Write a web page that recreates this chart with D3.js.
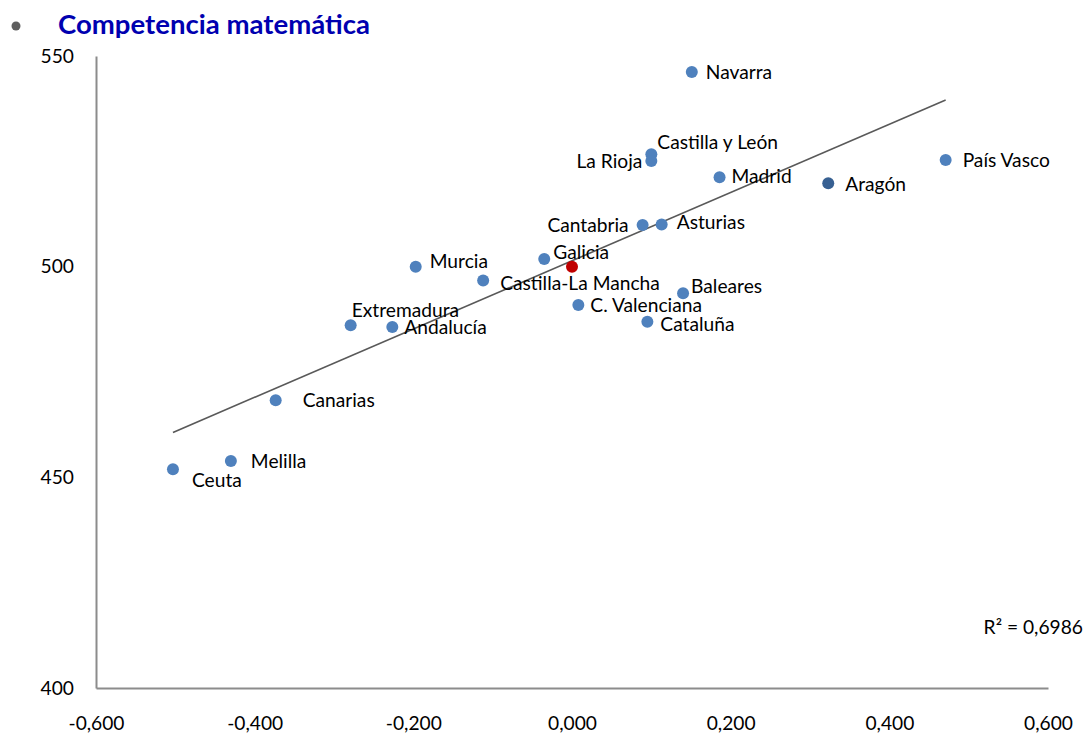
<!DOCTYPE html>
<html><head><meta charset="utf-8">
<script src="https://cdn.jsdelivr.net/npm/d3@7"></script>
<style>body{margin:0;background:#fff}svg{display:block}</style>
</head><body>
<svg id="c" width="1091" height="736"></svg>
<script>
const regions = ["Navarra","Castilla y León","La Rioja","Madrid","Aragón","País Vasco","Cantabria","Asturias","Galicia","Murcia","Castilla-La Mancha","Baleares","C. Valenciana","Cataluña","Extremadura","Andalucía","Canarias","Melilla","Ceuta","España"];
const xValues = [0.151,0.100,0.100,0.186,0.323,0.471,0.089,0.113,-0.035,-0.197,-0.112,0.140,0.008,0.095,-0.279,-0.2265,-0.3735,-0.430,-0.503,0.000];
const yValues = [546.2,526.7,525.1,521.2,519.8,525.3,509.9,510.0,501.8,500.0,496.7,493.7,490.9,486.9,486.1,485.7,468.3,453.9,451.9,500.0];
const pointKind = ["n","n","n","n","a","n","n","n","n","n","n","n","n","n","n","n","n","n","n","s"];
// label offsets (px) relative to point: [dx, dy, anchor]
const labelOffsets = [[14,0,"start"],[6,-12,"start"],[-9,0,"end"],[12,-1,"start"],[17,1,"start"],[17,0,"start"],[-14,0,"end"],[15,-2,"start"],[9,-7,"start"],[14,-5,"start"],[17,3,"start"],[8,-7,"start"],[12,0,"start"],[13,2,"start"],[1,-15,"start"],[12,0,"start"],[27,0,"start"],[20,0,"start"],[19,11,"start"]];
const xTicks = [-0.6,-0.4,-0.2,0,0.2,0.4,0.6];
const yTicks = [400,450,500,550];
const trendSlope = 81.0, trendIntercept = 501.4, trendRange = [-0.503, 0.471];
const r2Text = "R² = 0,6986";
const titleText = "Competencia matemática";

const svg = d3.select("#c");
const font = "Lato, 'Open Sans', sans-serif";
const fs = 19.2;
const x = d3.scaleLinear().domain([-0.6,0.6]).range([96,1048]);
const y = d3.scaleLinear().domain([400,550]).range([688,56]);
const fmt = v => d3.format(".3f")(v).replace(".",",").replace("−","-");

// title
svg.append("circle").attr("cx",16).attr("cy",26).attr("r",4.5).attr("fill","#5f5f5f");
svg.append("text").attr("x",58).attr("y",34).attr("font-family",font).attr("font-weight","bold")
  .attr("font-size",26).attr("fill","#0000b0").attr("textLength",312).attr("lengthAdjust","spacingAndGlyphs").text(titleText);

// axes
const ax = d3.axisBottom(x).tickValues(xTicks).tickSize(0).tickPadding(28).tickFormat(fmt);
const gx = svg.append("g").attr("transform","translate(0,688)").call(ax);
const ay = d3.axisLeft(y).tickValues(yTicks).tickSize(0).tickPadding(22).tickFormat(d3.format("d"));
const gy = svg.append("g").attr("transform","translate(96,0)").call(ay);
[gx,gy].forEach(g=>{
  g.select(".domain").attr("stroke","#8c8c8c").attr("stroke-width",2);
  g.selectAll("text").attr("font-family",font).attr("font-size",fs).attr("fill","#000");
});
gx.selectAll("text").attr("dy","0.71em");

// trend line
svg.append("line")
  .attr("x1",x(trendRange[0])).attr("y1",y(trendIntercept+trendSlope*trendRange[0]))
  .attr("x2",x(trendRange[1])).attr("y2",y(trendIntercept+trendSlope*trendRange[1]))
  .attr("stroke","#595959").attr("stroke-width",1.6);

// points
const data = regions.map((r,i)=>({r, x:xValues[i], y:yValues[i], k:pointKind[i], o:labelOffsets[i]}));
const colors = {n:"#4f81bd", a:"#376092", s:"#c00000"};
svg.append("g").selectAll("circle").data(data).join("circle")
  .attr("cx",d=>x(d.x)).attr("cy",d=>y(d.y)).attr("r",6).attr("fill",d=>colors[d.k]);

svg.append("g").selectAll("text").data(data.filter(d=>d.o)).join("text")
  .attr("x",d=>x(d.x)+d.o[0]).attr("y",d=>y(d.y)+d.o[1]).attr("dy","0.35em")
  .attr("text-anchor",d=>d.o[2]).attr("font-family",font).attr("font-size",fs).attr("fill","#000")
  .text(d=>d.r);

svg.append("text").attr("x",1083).attr("y",627).attr("dy","0.35em").attr("text-anchor","end")
  .attr("font-family",font).attr("font-size",fs).attr("fill","#000").text(r2Text);
</script>
</body></html>
